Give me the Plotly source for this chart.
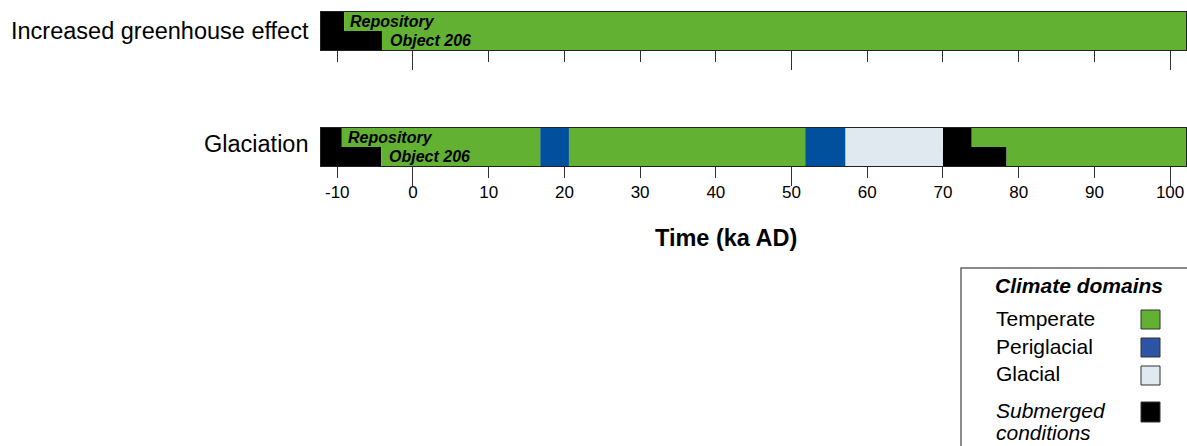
import plotly.graph_objects as go

W, H = 1187, 446
FONT = "Liberation Sans, Arial, sans-serif"

# ---------------- data ----------------
scenarios = ["Increased greenhouse effect", "Glaciation"]
rows = ["Repository", "Object 206"]
t_min, t_max = -12.15, 102.1

# boundaries (ka AD) and climate domain of each segment
gh_repo_bounds = [t_min, -9.1, t_max]
gh_repo_domains = ["Submerged", "Temperate"]
gh_obj_bounds = [t_min, -4.1, t_max]
gh_obj_domains = ["Submerged", "Temperate"]

gl_repo_bounds = [t_min, -9.4, 16.8, 20.6, 51.8, 57.1, 70.0, 73.8, t_max]
gl_repo_domains = ["Submerged", "Temperate", "Periglacial", "Temperate",
                   "Periglacial", "Glacial", "Submerged", "Temperate"]
gl_obj_bounds = [t_min, -4.2, 16.8, 20.6, 51.8, 57.1, 70.0, 78.4, t_max]
gl_obj_domains = ["Submerged", "Temperate", "Periglacial", "Temperate",
                  "Periglacial", "Glacial", "Submerged", "Temperate"]

tick_vals = list(range(-10, 101, 10))
tick_text = ["-10", "0", "10", "20", "30", "40", "50", "60", "70", "80", "90", "100"]
long_ticks = [0, 50, 100]

legend_items = ["Temperate", "Periglacial", "Glacial", "Submerged"]
legend_labels = [["Temperate"], ["Periglacial"], ["Glacial"],
                 ["<i>Submerged</i>", "<i>conditions</i>"]]

bar_colors = {"Temperate": "#62B133", "Periglacial": "#01509E",
              "Glacial": "#E0E8F0", "Submerged": "#000000"}
legend_colors = {"Temperate": "#62B133", "Periglacial": "#2B55A4",
                 "Glacial": "#E0E8F0", "Submerged": "#000000"}

# ---------------- figure ----------------
fig = go.Figure()

def add_row(bounds, domains, ypos, yaxis):
    for dom in set(domains):
        starts, lens = [], []
        for i, d in enumerate(domains):
            if d == dom:
                starts.append(bounds[i])
                lens.append(bounds[i + 1] - bounds[i])
        fig.add_trace(go.Bar(
            x=lens, y=[ypos] * len(lens), base=starts, orientation="h",
            width=1.0, marker=dict(color=bar_colors[dom], line=dict(width=0)),
            showlegend=False, hoverinfo="skip", xaxis="x" if yaxis == "y" else "x2",
            yaxis=yaxis))

add_row(gh_repo_bounds, gh_repo_domains, 1.5, "y")
add_row(gh_obj_bounds, gh_obj_domains, 0.5, "y")
add_row(gl_repo_bounds, gl_repo_domains, 1.5, "y2")
add_row(gl_obj_bounds, gl_obj_domains, 0.5, "y2")

# dummy traces so overlay axes (long ticks) are drawn
fig.add_trace(go.Scatter(x=[None], y=[None], xaxis="x3", yaxis="y", showlegend=False))
fig.add_trace(go.Scatter(x=[None], y=[None], xaxis="x4", yaxis="y2", showlegend=False))

dom_x = [321 / W, 1186 / W]
def ydom(top_px, bot_px):
    return [1 - bot_px / H, 1 - top_px / H]

base_x = dict(domain=dom_x, range=[t_min, t_max], showgrid=False, zeroline=False,
              ticks="outside", tickcolor="#333", tickwidth=1)
fig.update_layout(
    width=W, height=H, margin=dict(l=0, r=0, t=0, b=0),
    paper_bgcolor="white", plot_bgcolor="white", barmode="overlay",
    font=dict(family=FONT, color="black"),
    xaxis=dict(**base_x, anchor="y", tickvals=tick_vals, ticklen=11,
               showticklabels=False, showline=True, mirror=True,
               linecolor="#222", linewidth=1),
    yaxis=dict(domain=ydom(12, 50), range=[0, 2], anchor="x", showticklabels=False,
               showgrid=False, zeroline=False, showline=True, mirror=True,
               linecolor="#222", linewidth=1, fixedrange=True),
    xaxis3=dict(**base_x, anchor="y", overlaying="x", tickvals=long_ticks, ticklen=19,
                showticklabels=False, showline=False),
    xaxis2=dict(**base_x, anchor="y2", tickvals=tick_vals, ticktext=tick_text, ticklen=11,
                showticklabels=True, tickfont=dict(size=17, family=FONT),
                showline=True, mirror=True, linecolor="#222", linewidth=1),
    yaxis2=dict(domain=ydom(128, 166), range=[0, 2], anchor="x2", showticklabels=False,
                showgrid=False, zeroline=False, showline=True, mirror=True,
                linecolor="#222", linewidth=1, fixedrange=True),
    xaxis4=dict(**base_x, anchor="y2", overlaying="x2", tickvals=long_ticks, ticklen=19,
                showticklabels=False, showline=False),
)

ann = []
# scenario labels
for lab, ypx in zip(scenarios, [31, 144]):
    ann.append(dict(text=lab, xref="paper", yref="paper", x=311 / W, y=1 - ypx / H,
                    xanchor="right", yanchor="middle", showarrow=False,
                    font=dict(size=23.5, family=FONT)))
# row labels inside bars
for xa, ya, rb, ob in [("x", "y", gh_repo_bounds, gh_obj_bounds),
                       ("x2", "y2", gl_repo_bounds, gl_obj_bounds)]:
    ann.append(dict(text="<b><i>Repository</i></b>", xref=xa, yref=ya, x=rb[1] + 0.5, y=1.5,
                    xanchor="left", yanchor="middle", showarrow=False,
                    font=dict(size=16, family=FONT)))
    ann.append(dict(text="<b><i>Object 206</i></b>", xref=xa, yref=ya, x=ob[1] + 0.8, y=0.5,
                    xanchor="left", yanchor="middle", showarrow=False,
                    font=dict(size=16, family=FONT)))
# axis title
ann.append(dict(text="<b>Time (ka AD)</b>", xref="paper", yref="paper", x=726 / W,
                y=1 - 238 / H, xanchor="center", yanchor="middle", showarrow=False,
                font=dict(size=23.5, family=FONT)))

# legend
shapes = [dict(type="rect", xref="paper", yref="paper", x0=961 / W, x1=1.05,
               y0=-0.1, y1=1 - 268 / H, line=dict(color="#666", width=1.5),
               fillcolor="white", layer="below")]
ann.append(dict(text="<b><i>Climate domains</i></b>", xref="paper", yref="paper",
                x=1079 / W, y=1 - 285 / H, xanchor="center", yanchor="middle",
                showarrow=False, font=dict(size=21, family=FONT)))
label_y = [[318], [346], [373], [410, 432]]
swatch_y = [(310, 329), (338, 357), (366, 385), (402, 422)]
for item, labs, lys, (s0, s1) in zip(legend_items, legend_labels, label_y, swatch_y):
    for lab, ly in zip(labs, lys):
        ann.append(dict(text=lab, xref="paper", yref="paper", x=994 / W, y=1 - ly / H,
                        xanchor="left", yanchor="middle", align="left", showarrow=False,
                        font=dict(size=21, family=FONT)))
    shapes.append(dict(type="rect", xref="paper", yref="paper", x0=1141 / W, x1=1160 / W,
                       y0=1 - s1 / H, y1=1 - s0 / H, fillcolor=legend_colors[item],
                       line=dict(color="#333", width=1)))

fig.update_layout(annotations=ann, shapes=shapes)
fig.write_html("out.html")
